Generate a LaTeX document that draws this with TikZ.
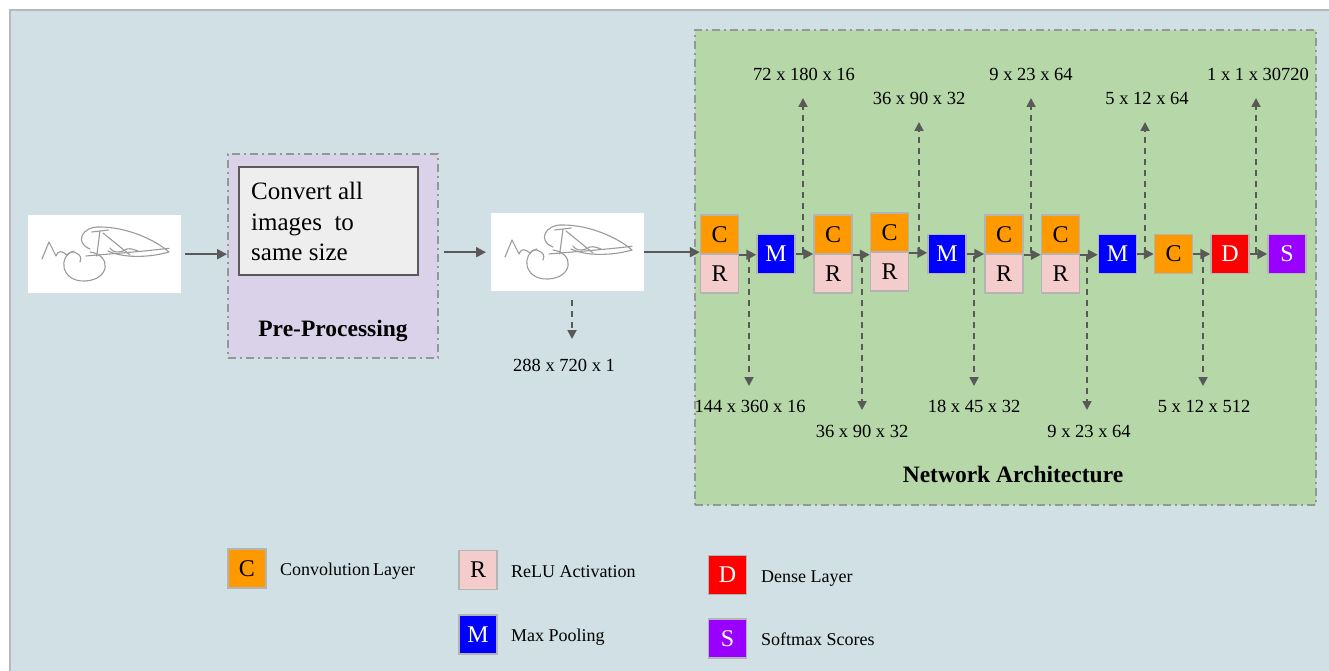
\documentclass[tikz,border=0pt]{standalone}
\usepackage{fontspec}
\setmainfont{Liberation Serif}
\usetikzlibrary{arrows.meta}

\definecolor{bgblue}{RGB}{208,224,228}
\definecolor{bgedge}{RGB}{185,185,185}
\definecolor{prebg}{RGB}{217,210,233}
\definecolor{netbg}{RGB}{182,215,168}
\definecolor{frameedge}{RGB}{150,150,150}
\definecolor{blockedge}{RGB}{180,180,180}
\definecolor{convc}{RGB}{255,153,0}
\definecolor{reluc}{RGB}{244,204,204}
\definecolor{poolc}{RGB}{0,0,255}
\definecolor{densec}{RGB}{255,0,0}
\definecolor{softc}{RGB}{153,0,255}
\definecolor{arrowc}{RGB}{89,89,89}
\definecolor{sigc}{RGB}{155,155,155}
\definecolor{innerbg}{RGB}{238,238,238}
\definecolor{inneredge}{RGB}{90,90,90}

% hand-written signature, drawn in local pixel coordinates of a sample image
\newcommand{\signaturesketch}[1]{%
  \begin{scope}[shift={(#1)}, sig/.style={draw=sigc, line width=1.1pt, line cap=round, line join=round}]
    \draw[sig] (14,44) -- (21,27) -- (28,41) .. controls (30,36) and (33,35) .. (38.7,40)
      .. controls (42,37) and (45,36) .. (48,38) .. controls (52,40) and (54,42) .. (52,47);
    \draw[sig] (46,36) .. controls (30,40) and (32,67) .. (57,66) .. controls (82,65) and (84,40) .. (62,37);
    \draw[sig] (62,34) .. controls (46,28) and (54,11) .. (72,12) .. controls (98,12) and (126,24) .. (141,37)
      .. controls (120,43) and (95,43) .. (80,36);
    \draw[sig] (63.7,17) -- (80.3,15);
    \draw[sig] (72,16) -- (68.7,41);
    \draw[sig] (75,18) -- (102,40);
    \draw[sig] (58,41) .. controls (80,39) and (110,37) .. (141,33.3);
    \draw[sig] (82,33) .. controls (85,37) and (88,38) .. (95,36) .. controls (100,32) and (104,34) .. (110,36);
  \end{scope}}

\begin{document}
\begin{tikzpicture}[x=1pt, y=-1pt,
  layer/.style={draw=blockedge, line width=1.5pt, minimum width=38pt, minimum height=39pt,
    inner sep=0pt, font=\fontsize{24}{24}\selectfont},
  conv/.style={layer, fill=convc},
  relu/.style={layer, fill=reluc},
  pool/.style={layer, fill=poolc, text=white},
  dense/.style={layer, fill=densec, text=white},
  soft/.style={layer, fill=softc, text=white},
  flow/.style={draw=arrowc, line width=2pt, -{Triangle[length=10pt,width=10pt]}},
  dimarrow/.style={draw=arrowc, line width=1.8pt, dash pattern=on 6pt off 5pt,
    -{Triangle[length=9pt,width=9pt]}},
  dimlabel/.style={font=\fontsize{18.5}{18.5}\selectfont, inner sep=0pt, anchor=base},
  framebox/.style={draw=frameedge, line width=2pt, dash pattern=on 8pt off 4pt on 2pt off 4pt},
  title/.style={font=\bfseries\fontsize{23.5}{24}\selectfont, inner sep=0pt, anchor=base},
  legendtext/.style={font=\fontsize{18}{18}\selectfont, inner sep=0pt, anchor=base west},
  sample/.style={fill=white, minimum width=153pt, minimum height=78pt, inner sep=0pt, anchor=north west}
]
\useasboundingbox (0,0) rectangle (1329,671);
\fill[white] (0,0) rectangle (1329,671);
\draw[draw=bgedge, fill=bgblue, line width=1.5pt] (10,10) rectangle (1345,690);

% ---------- containers ----------
\node[framebox, fill=prebg, minimum width=210pt, minimum height=204pt, inner sep=0pt, anchor=north west]
  (preproc) at (227,153) {};
\node[framebox, fill=netbg, minimum width=621pt, minimum height=475pt, inner sep=0pt, anchor=north west]
  (network) at (694,29) {};

\node[draw=inneredge, fill=innerbg, line width=2pt, minimum width=179pt, minimum height=108pt,
  inner sep=0pt, anchor=north west] (resizebox) at (238,166) {};
\node[anchor=north west, align=left, inner sep=0pt, font=\fontsize{25}{30.5}\selectfont]
  (resizetext) at (251,182) {Convert all\\images\ \ to\\same size};
\node[title] (pretitle) at (333,336) {Pre-Processing};
\node[title] (nettitle) at (1013,482) {Network Architecture};

% ---------- sample images ----------
\node[sample] (img1) at (28,215) {};
\signaturesketch{img1.north west}
\node[sample] (img2) at (491,213) {};
\signaturesketch{img2.north west}

\draw[flow] ([xshift=4pt]img1.east) -- (img1.east -| preproc.west);
\draw[flow] ([xshift=5pt]preproc.east |- img2.west) -- ([xshift=-5pt]img2.west);

\coordinate (ps) at (572,300);
\coordinate (pe) at (572,339);
\draw[dimarrow] (ps) -- (pe);
\node[dimlabel] (pdim) at (564,371) {288 x 720 x 1};

% ---------- layers ----------
\node[conv] (c1) at (719.5,234.5) {C};
\node[relu] (r1) at (719.5,273.5) {R};
\node[pool] (m1) at (776,254) {M};
\node[conv] (c2) at (833,234.5) {C};
\node[relu] (r2) at (833,273.5) {R};
\node[conv] (c3) at (889.5,232.5) {C};
\node[relu] (r3) at (889.5,271.5) {R};
\node[pool] (m2) at (947,254) {M};
\node[conv] (c4) at (1004,234.5) {C};
\node[relu] (r4) at (1004,273.5) {R};
\node[conv] (c5) at (1060.5,234.5) {C};
\node[relu] (r5) at (1060.5,273.5) {R};
\node[pool] (m3) at (1117.5,254) {M};
\node[conv] (c6) at (1173.5,254) {C};
\node[dense] (d1) at (1230,254) {D};
\node[soft] (s1) at (1287,254) {S};

\draw[flow] (img2.east) -- (img2.east -| c1.west);
\draw[flow] (c1.south east) -- (c1.south east -| m1.west);
\draw[flow] (m1.east) -- (m1.east -| c2.west);
\draw[flow] (c2.south east) -- (c2.south east -| c3.west);
\draw[flow] (c3.south east) -- (c3.south east -| m2.west);
\draw[flow] (m2.east) -- (m2.east -| c4.west);
\draw[flow] (c4.south east) -- (c4.south east -| c5.west);
\draw[flow] (c5.south east) -- (c5.south east -| m3.west);
\draw[flow] (m3.east) -- (c6.west);
\draw[flow] (c6.east) -- (d1.west);
\draw[flow] (d1.east) -- (s1.west);

% ---------- tensor shapes, upwards ----------
\foreach \n/\x/\tip/\lx/\ly/\txt in {
   u1/803/98/804/81/{72 x 180 x 16},
   u2/919/122/919/105/{36 x 90 x 32},
   u3/1031/98/1031/81/{9 x 23 x 64},
   u4/1145/122/1147/105/{5 x 12 x 64},
   u5/1256/98/1258/81/{1 x 1 x 30720}} {
  \coordinate (\n s) at (\x,253);
  \coordinate (\n e) at (\x,\tip);
  \draw[dimarrow] (\n s) -- (\n e);
  \node[dimlabel] (\n l) at (\lx,\ly) {\txt};
}

% ---------- tensor shapes, downwards ----------
\foreach \n/\x/\tip/\lx/\ly/\txt in {
   w1/749/386/750/412/{144 x 360 x 16},
   w2/862/410/862/437/{36 x 90 x 32},
   w3/974/386/974/412/{18 x 45 x 32},
   w4/1087/410/1089/437/{9 x 23 x 64},
   w5/1203/386/1204/412/{5 x 12 x 512}} {
  \coordinate (\n s) at (\x,256);
  \coordinate (\n e) at (\x,\tip);
  \draw[dimarrow] (\n s) -- (\n e);
  \node[dimlabel] (\n l) at (\lx,\ly) {\txt};
}

% ---------- legend ----------
\node[conv] (kc) at (247,568.5) {C};
\node[legendtext] (kct) at (280,575) {Convolution\hspace{3pt}Layer};
\node[relu] (kr) at (478,570) {R};
\node[legendtext] (krt) at (511,577) {ReLU Activation};
\node[pool] (km) at (478,634.5) {M};
\node[legendtext] (kmt) at (511,641) {Max Pooling};
\node[dense] (kd) at (727.5,575) {D};
\node[legendtext] (kdt) at (761,582) {Dense Layer};
\node[soft] (ks) at (727.5,638.5) {S};
\node[legendtext] (kst) at (761,645) {Softmax Scores};
\end{tikzpicture}
\end{document}
